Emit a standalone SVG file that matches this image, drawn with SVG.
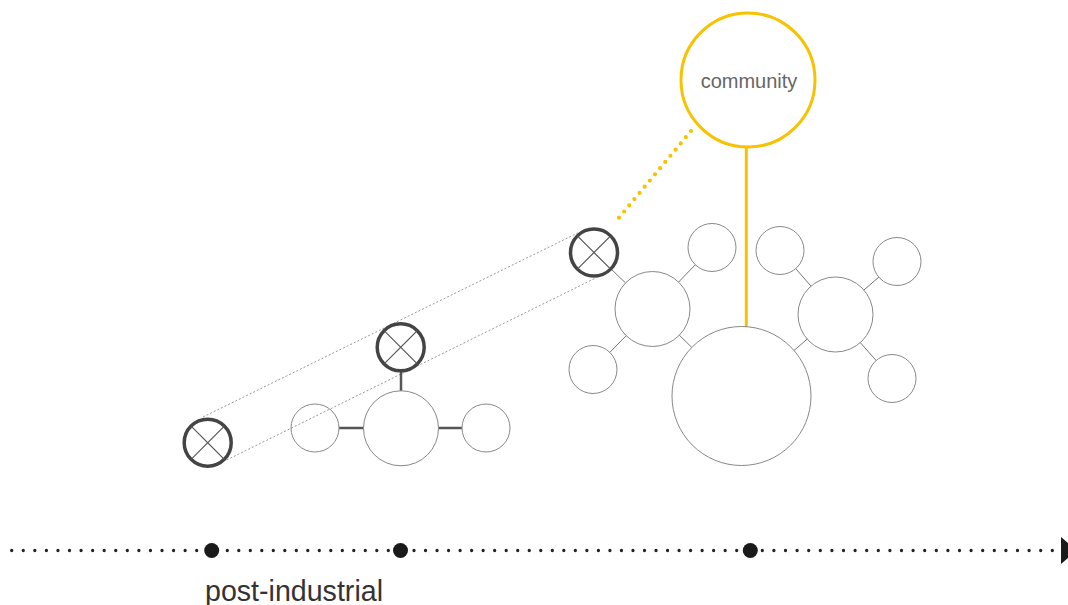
<svg xmlns="http://www.w3.org/2000/svg" width="1068" height="605" viewBox="0 0 1068 605">
<style>
.node{fill:none;stroke:#888;stroke-width:1}
.xc{fill:#fff;stroke:#444;stroke-width:3.5}
.xl{stroke:#555;stroke-width:1.2}
.link{stroke:#777;stroke-width:1}
.link2{stroke:#555;stroke-width:2.5}
.dotg{stroke:#999;stroke-width:1;stroke-dasharray:2 2;fill:none}
.yel{stroke:#F7C200;fill:none}
.tl{stroke:#222;stroke-width:3.3;stroke-linecap:round;fill:none}
.big{fill:#1a1a1a}
.lbl{font-family:"Liberation Sans",Arial,sans-serif}
</style>
<rect width="1068" height="605" fill="#fff"/>
<g id="connectors">
<line class="dotg" x1="203" y1="417" x2="578.3" y2="232.7"/>
<line class="dotg" x1="226.7" y1="460" x2="598.3" y2="276.7"/>
<line class="yel" x1="746.3" y1="147" x2="746.3" y2="327" stroke-width="3"/>
<line class="yel" x1="691" y1="131" x2="614.3" y2="223.3" stroke-width="4.2" stroke-linecap="round" stroke-dasharray="0 8.05"/>
<line class="link" x1="612" y1="269.9" x2="625.5" y2="282.9"/>
<line class="link" x1="678.6" y1="282.1" x2="695.3" y2="264.7"/>
<line class="link" x1="626.2" y1="335.7" x2="609.8" y2="352.4"/>
<line class="link" x1="679.3" y1="335.2" x2="691.8" y2="347.4"/>
<line class="link" x1="807.2" y1="339.1" x2="794" y2="350.5"/>
<line class="link" x1="811" y1="286.2" x2="795.7" y2="268.6"/>
<line class="link" x1="863.9" y1="290" x2="878.8" y2="277.2"/>
<line class="link" x1="860.3" y1="342.6" x2="876.1" y2="360.5"/>
<line class="link2" x1="339" y1="428" x2="363.5" y2="428"/>
<line class="link2" x1="438.5" y1="428" x2="462" y2="428"/>
<line class="link2" x1="401" y1="371" x2="401" y2="391"/>
</g>
<g id="community">
<circle class="yel" cx="748" cy="80" r="67" stroke-width="3"/>
<text class="lbl" x="749" y="88" font-size="20" fill="#666" text-anchor="middle">community</text>
</g>
<g id="hub-big"><circle class="node" cx="741.5" cy="396" r="69.5"/></g>
<g id="hub-left"><circle class="node" cx="652.5" cy="309" r="37.5"/></g>
<g id="hub-right"><circle class="node" cx="835.5" cy="314.5" r="37.5"/></g>
<g id="leaf-1"><circle class="node" cx="712" cy="247.5" r="24"/></g>
<g id="leaf-2"><circle class="node" cx="593" cy="369.5" r="24"/></g>
<g id="leaf-3"><circle class="node" cx="780" cy="250.5" r="24"/></g>
<g id="leaf-4"><circle class="node" cx="897" cy="261.5" r="24"/></g>
<g id="leaf-5"><circle class="node" cx="892" cy="378.5" r="24"/></g>
<g id="small-hub"><circle class="node" cx="401" cy="428.3" r="37.5"/></g>
<g id="small-leaf-left"><circle class="node" cx="315" cy="428" r="24"/></g>
<g id="small-leaf-right"><circle class="node" cx="486" cy="428" r="24"/></g>
<g id="x-top">
<circle class="xc" cx="594" cy="252.5" r="23.5"/>
<line class="xl" x1="577.4" y1="235.9" x2="610.6" y2="269.1"/>
<line class="xl" x1="610.6" y1="235.9" x2="577.4" y2="269.1"/>
</g>
<g id="x-mid">
<circle class="xc" cx="400.7" cy="347.3" r="23.5"/>
<line class="xl" x1="384.1" y1="330.7" x2="417.3" y2="363.9"/>
<line class="xl" x1="417.3" y1="330.7" x2="384.1" y2="363.9"/>
</g>
<g id="x-bottom">
<circle class="xc" cx="207.7" cy="442.7" r="23.5"/>
<line class="xl" x1="191.1" y1="426.1" x2="224.3" y2="459.3"/>
<line class="xl" x1="224.3" y1="426.1" x2="191.1" y2="459.3"/>
</g>
<g id="timeline">
<line class="tl" x1="11.7" y1="550.5" x2="197.2" y2="550.5" stroke-dasharray="0 11.5625"/>
<line class="tl" x1="227.3" y1="550.5" x2="388.8" y2="550.5" stroke-dasharray="0 11.5"/>
<line class="tl" x1="414" y1="550.5" x2="737.2" y2="550.5" stroke-dasharray="0 11.525"/>
<line class="tl" x1="762.3" y1="550.5" x2="1052.8" y2="550.5" stroke-dasharray="0 11.6"/>
<circle class="big" cx="211.7" cy="550.5" r="7.5"/>
<circle class="big" cx="400.5" cy="550.5" r="7.5"/>
<circle class="big" cx="750.3" cy="550.5" r="7.5"/>
<polygon class="big" points="1061,537 1077,550.5 1061,564"/>
<text class="lbl" x="205" y="601" font-size="30" fill="#333" textLength="178" lengthAdjust="spacingAndGlyphs">post-industrial</text>
</g>
</svg>
